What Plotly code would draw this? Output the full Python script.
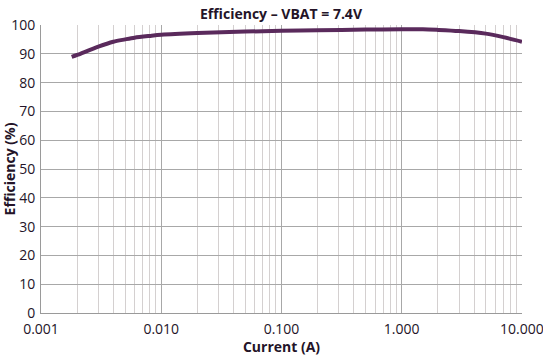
import plotly.graph_objects as go

current_a = [0.0018, 0.002, 0.003, 0.004, 0.005, 0.006, 0.008, 0.01, 0.02, 0.05,
             0.1, 0.2, 0.5, 1.0, 1.5, 2.0, 3.0, 5.0, 7.0, 10.0]
efficiency = [88.9, 89.6, 92.5, 94.2, 95.0, 95.6, 96.2, 96.6, 97.2, 97.7,
              98.0, 98.2, 98.4, 98.5, 98.5, 98.3, 97.9, 97.0, 95.8, 94.2]

x_tickvals = [0.001, 0.01, 0.1, 1, 10]
x_ticktext = ["0.001", "0.010", "0.100", "1.000", "10.000"]

txt = "#241428"
font = "Open Sans"

fig = go.Figure()
fig.add_trace(go.Scatter(
    x=current_a, y=efficiency, mode="lines",
    line=dict(color="#5a2a5c", width=4, shape="spline", smoothing=0.8),
    showlegend=False, hoverinfo="skip"))

fig.update_layout(
    width=543, height=356,
    margin=dict(l=41, r=21, t=25, b=43, autoexpand=False),
    paper_bgcolor="white", plot_bgcolor="white",
    title=dict(text="<b>Efficiency – VBAT = 7.4V</b>", x=0.5175, xanchor="center",
               y=0.975, yanchor="top", font=dict(family=font, size=14, color=txt),
               automargin=False),
    font=dict(family=font, color=txt),
)

fig.update_xaxes(
    type="log", range=[-3, 1.0004],
    tickvals=x_tickvals, ticktext=x_ticktext,
    tickfont=dict(family=font, size=14, color=txt),
    ticklabeloverflow="allow", ticklabelstandoff=3,
    showgrid=True, gridcolor="#a8a8a8", gridwidth=1,
    minor=dict(dtick="D1", showgrid=True, gridcolor="#d4d0d0", gridwidth=1),
    showline=True, linecolor="#9a9a9a", linewidth=1,
    ticks="", zeroline=False, automargin=False,
    title=dict(text="<b>Current (A)</b>", font=dict(family=font, size=14, color=txt), standoff=2),
)
fig.update_yaxes(
    range=[0, 100], dtick=10,
    tickfont=dict(family=font, size=14, color=txt),
    ticklabelstandoff=2,
    showgrid=True, gridcolor="#a8a8a8", gridwidth=1,
    showline=True, linecolor="#9a9a9a", linewidth=1,
    ticks="", zeroline=False, automargin=False,
    title=dict(text="<b>Efficiency (%)</b>", font=dict(family=font, size=14, color=txt), standoff=0),
)

fig.write_html("out.html", config={"displayModeBar": False},
               post_script="document.body.style.margin='0';")
